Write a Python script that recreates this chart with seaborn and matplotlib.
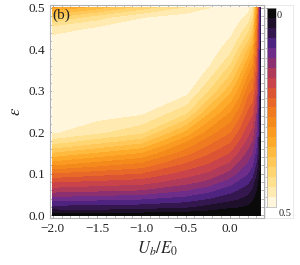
import numpy as np
import matplotlib
matplotlib.use("Agg")
import matplotlib.pyplot as plt
from matplotlib.colors import ListedColormap, BoundaryNorm
from matplotlib.ticker import MultipleLocator
from matplotlib.patches import Rectangle
import seaborn as sns

# grid
ub = [-2.0, -1.5, -1.0, -0.5, -0.25, 0.0, 0.1, 0.2, 0.25, 0.3, 0.33, 0.35]
eps = [0, .01, .02, .04, .06, .08, .1, .125, .15, .175, .2, .25, .3, .35, .4, .425, .45, .475, .5]

# one column of values per U_b/E_0 position (bottom -> top in eps)
z_m200 = [0, .036, .064, .113, .16, .2, .245, .31, .37, .431, .478, .495, .499, .499, .492, .482, .46, .40, .32]
z_m150 = [0, .038, .065, .107, .154, .192, .233, .289, .345, .404, .455, .49, .498, .499, .497, .49, .478, .44, .36]
z_m100 = [0, .033, .06, .102, .148, .185, .222, .27, .322, .377, .43, .482, .496, .499, .498, .495, .488, .474, .41]
z_m050 = [0, .026, .052, .089, .125, .159, .187, .222, .258, .295, .341, .433, .485, .496, .499, .498, .495, .49, .45]
z_m025 = [0, .02, .04, .075, .108, .142, .169, .2, .228, .256, .288, .357, .425, .472, .493, .497, .497, .493, .472]
z_p000 = [0, .012, .028, .058, .084, .111, .139, .169, .198, .224, .25, .3, .355, .41, .458, .472, .485, .492, .488]
z_p010 = [0, .0125, .025, .05, .072, .094, .117, .144, .17, .195, .218, .265, .315, .365, .417, .444, .464, .48, .483]
z_p020 = [0, .01, .02, .04, .06, .08, .1, .121, .142, .163, .183, .221, .258, .31, .37, .405, .435, .462, .482]
z_p025 = [0, .007, .014, .028, .046, .064, .083, .106, .126, .146, .166, .206, .245, .285, .335, .365, .395, .425, .455]
z_p030 = [0, .004, .008, .016, .024, .032, .048, .07, .088, .105, .12, .145, .175, .2, .225, .24, .255, .275, .3]
z_p033 = [0, .002, .003, .007, .011, .016, .022, .03, .037, .044, .05, .062, .074, .084, .094, .1, .106, .112, .118]
z_p035 = [0, 0, 0, 0, 0, 0, 0, 0, 0, 0, 0, 0, 0, 0, 0, 0, 0, 0, 0]

Z = np.column_stack([z_m200, z_m150, z_m100, z_m050, z_m025, z_p000,
                     z_p010, z_p020, z_p025, z_p030, z_p033, z_p035])

# colour of each band, 0 (top of the bar) -> 0.5 (bottom)
band_colors = ["#0a0a0a", "#1e0f2a", "#34174f", "#4f2380", "#6e2d88",
               "#8c3070", "#b03a5a", "#c9444a", "#db5535", "#e8682a",
               "#f07a20", "#f58a1c", "#fa9a20", "#fdaa2a", "#ffbb40",
               "#ffc858", "#ffd572", "#ffe08e", "#ffebb2", "#fff6dc"]

# =========================================================
# style
# =========================================================
sns.set_style("ticks")
plt.rcParams["font.family"] = ["Liberation Serif", "DejaVu Serif"]
plt.rcParams["mathtext.fontset"] = "stix"

cmap = ListedColormap(sns.color_palette(band_colors))
levels = np.linspace(0, 0.5, 21)
norm = BoundaryNorm(levels, cmap.N)

fig = plt.figure(figsize=(3.0, 2.65), dpi=100)
ax = fig.add_axes([0.167, 0.177, 0.713, 0.804])
cax = fig.add_axes([0.89, 0.219, 0.03, 0.751])

# faint legend box
fig.patches.append(Rectangle((265 / 300, 47 / 265), 28 / 300, 213 / 265,
                             transform=fig.transFigure, fill=False,
                             edgecolor="#e6e6e6", linewidth=0.6))

cs = ax.contourf(ub, eps, Z, levels=levels, cmap=cmap, norm=norm)

ax.set_xlim(-2.03, 0.385)
ax.set_ylim(-0.007, 0.507)
ax.xaxis.set_major_locator(MultipleLocator(0.5))
ax.xaxis.set_minor_locator(MultipleLocator(0.1))
ax.yaxis.set_major_locator(MultipleLocator(0.1))
ax.yaxis.set_minor_locator(MultipleLocator(0.02))
ax.tick_params(which="both", direction="in", top=True, right=True,
               color="#9a9a9a", labelsize=9.5, labelcolor="#222222")
ax.tick_params(which="major", length=4, width=0.6)
ax.tick_params(which="minor", length=2, width=0.5)
for s in ax.spines.values():
    s.set_color("#b0b0b0")
    s.set_linewidth(0.8)

ax.set_xlabel("$U_b/E_0$", fontsize=12, labelpad=3)
ax.set_ylabel("$\\epsilon$", fontsize=12, labelpad=3)
ax.text(0.01, 0.985, "(b)", transform=ax.transAxes, fontsize=11,
        ha="left", va="top", color="#222222")

cb = fig.colorbar(cs, cax=cax, ticks=levels)
cb.ax.invert_yaxis()
cb.ax.yaxis.set_ticks_position("left")
cb.ax.tick_params(length=2, width=0.5, color="#9a9a9a", labelleft=False)
cb.outline.set_edgecolor("#b0b0b0")
cb.outline.set_linewidth(0.5)
cax.text(1.1, 0.985, "0", transform=cax.transAxes, fontsize=7.5,
         ha="left", va="top", color="#222222")
cax.text(1.3, -0.01, "0.5", transform=cax.transAxes, fontsize=7.5,
         ha="left", va="top", color="#222222")

fig.savefig("out.png", dpi=100)
